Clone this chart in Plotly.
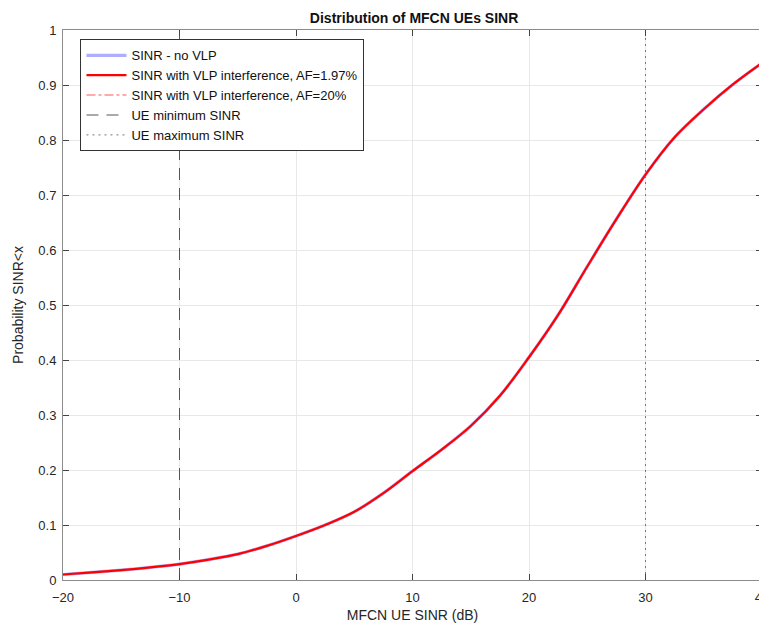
import plotly.graph_objects as go

sinr_db = [-20, -17.5, -15, -12.5, -10, -7.5, -5, -2.5, 0, 2.5, 5, 7.5, 10, 12.5,
           15, 17.5, 20, 22.5, 25, 27.5, 30, 32.5, 35, 37.5, 40]
cdf_no_vlp = [0.010, 0.014, 0.018, 0.023, 0.029, 0.037, 0.047, 0.062, 0.080, 0.100,
              0.124, 0.158, 0.198, 0.237, 0.280, 0.335, 0.405, 0.482, 0.570, 0.656,
              0.737, 0.805, 0.856, 0.901, 0.940]
cdf_af_197 = [0.010, 0.014, 0.018, 0.023, 0.029, 0.037, 0.047, 0.062, 0.080, 0.100,
              0.124, 0.158, 0.198, 0.237, 0.280, 0.335, 0.405, 0.482, 0.570, 0.656,
              0.737, 0.805, 0.856, 0.901, 0.940]
cdf_af_20 = [0.010, 0.014, 0.018, 0.023, 0.029, 0.037, 0.047, 0.062, 0.080, 0.100,
             0.124, 0.158, 0.198, 0.237, 0.280, 0.335, 0.405, 0.482, 0.570, 0.656,
             0.737, 0.805, 0.856, 0.901, 0.940]
ue_min_sinr = -10
ue_max_sinr = 30
x_ticks = [-20, -10, 0, 10, 20, 30, 40]
y_ticks = [0, 0.1, 0.2, 0.3, 0.4, 0.5, 0.6, 0.7, 0.8, 0.9, 1]
y_tick_labels = ["0", "0.1", "0.2", "0.3", "0.4", "0.5", "0.6", "0.7", "0.8", "0.9", "1"]

FONT = "Liberation Sans, Arial, sans-serif"

fig = go.Figure()
fig.add_trace(go.Scatter(x=sinr_db, y=cdf_no_vlp, mode="lines", name="SINR - no VLP",
                         line=dict(color="rgba(120,120,255,0.6)", width=3.2, shape="spline"),
                         legendrank=1))
fig.add_trace(go.Scatter(x=sinr_db, y=cdf_af_20, mode="lines",
                         name="SINR with VLP interference, AF=20%",
                         line=dict(color="rgba(255,150,150,0.8)", width=2, dash="dashdot",
                                   shape="spline"),
                         legendrank=3))
fig.add_trace(go.Scatter(x=sinr_db, y=cdf_af_197, mode="lines",
                         name="SINR with VLP interference, AF=1.97%",
                         line=dict(color="#ff0000", width=2.2, shape="spline"), legendrank=2))
fig.add_trace(go.Scatter(x=[ue_min_sinr, ue_min_sinr], y=[0, 1], mode="lines",
                         name="UE minimum SINR",
                         line=dict(color="#555555", width=1, dash="12px,8px"), legendrank=4))
fig.add_trace(go.Scatter(x=[ue_max_sinr, ue_max_sinr], y=[0, 1], mode="lines",
                         name="UE maximum SINR",
                         line=dict(color="#777777", width=1, dash="2px,4px"), legendrank=5))

axis_common = dict(
    showline=True, linecolor="#8c8c8c", linewidth=1, mirror="ticks",
    ticks="inside", ticklen=6, tickcolor="#444444",
    showgrid=True, gridcolor="#e8e8e8", gridwidth=1, zeroline=False,
    tickfont=dict(family=FONT, size=13, color="#262626"),
    ticklabeloverflow="allow", automargin=False,
)

fig.update_layout(
    width=759, height=622,
    margin=dict(l=55, r=5, t=22, b=50),
    paper_bgcolor="white", plot_bgcolor="white",
    title=dict(text="<b>Distribution of MFCN UEs SINR</b>", x=0.535, xanchor="center",
               y=0.992, yanchor="top",
               font=dict(family=FONT, size=14, color="#111111")),
    xaxis=dict(range=[-20, 40], tickvals=x_ticks, ticklabelstandoff=5, **axis_common,
               title=dict(text="MFCN UE SINR (dB)", standoff=6,
                          font=dict(family=FONT, size=14, color="#262626"))),
    yaxis=dict(range=[0, 1], tickvals=y_ticks, ticktext=y_tick_labels, ticklabelstandoff=3,
               **axis_common,
               title=dict(text="Probability SINR<x", standoff=11,
                          font=dict(family=FONT, size=14, color="#262626"))),
    legend=dict(x=0.025, y=0.983, xanchor="left", yanchor="top",
                bgcolor="white", bordercolor="#333333", borderwidth=1,
                font=dict(family=FONT, size=13, color="#111111"),
                tracegroupgap=0, itemwidth=40),
    showlegend=True,
)

fig.write_html("out.html")
